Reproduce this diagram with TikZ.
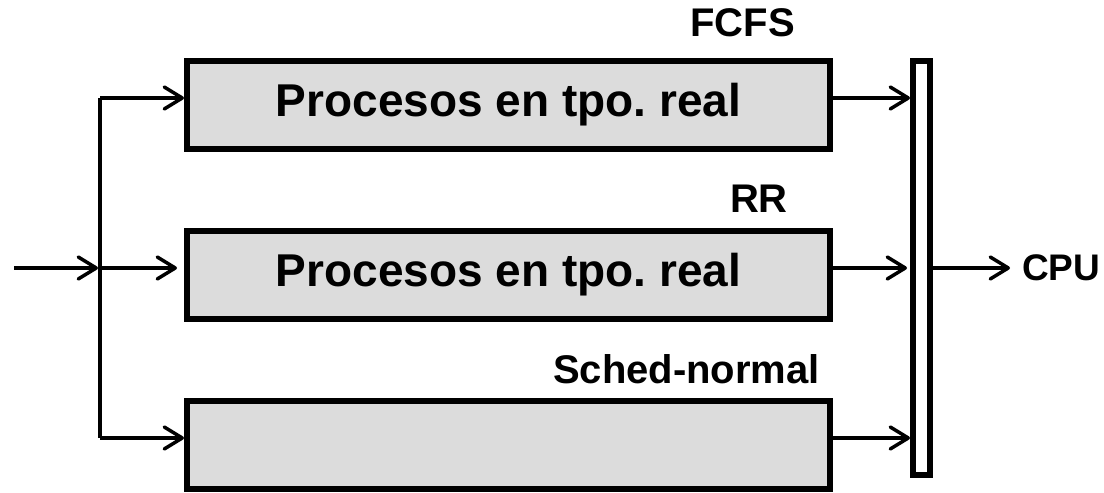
\documentclass[tikz,border=0pt]{standalone}
\usepackage{fontspec}
\setmainfont{Liberation Sans}
\usepackage{xcolor}
\usetikzlibrary{arrows.meta,positioning,calc}
\definecolor{queueGray}{HTML}{DCDCDC}
\definecolor{queueInk}{HTML}{000000}
\frenchspacing

\begin{document}
\begin{tikzpicture}[
  x=1pt, y=1pt,
  queue/.style={draw=queueInk, line width=6pt, fill=queueGray, inner sep=0pt,
    minimum width=643pt, minimum height=88pt,
    font=\fontsize{46}{50}\selectfont\bfseries},
  bus/.style={draw=queueInk, line width=6pt, fill=white, inner sep=0pt,
    minimum width=17pt, minimum height=414pt},
  tag/.style={inner sep=0pt, font=\fontsize{40}{44}\selectfont\bfseries},
  link/.style={line width=3.5pt, draw=queueInk},
  flow/.style={link, -{Straight Barb[length=18pt,width=22pt,round]}}
]
  \useasboundingbox (0,0) rectangle (1104,493);
  \node[queue] (fcfs) at (508.5,388) {Procesos en tpo. real};
  \node[queue,below=76pt of fcfs] (rr) {Procesos en tpo. real};
  \node[queue,below=76pt of rr] (normal) {};
  \node[bus,right=77pt of rr,yshift=7pt] (bus) {};
  \node[tag,anchor=base east] (fcfslbl) at ([xshift=-38pt,yshift=21pt]fcfs.north east) {FCFS};
  \node[tag,anchor=base east] (rrlbl) at ([xshift=-45pt,yshift=15pt]rr.north east) {RR};
  \node[tag,anchor=base east] (normallbl) at ([xshift=-13pt,yshift=14pt]normal.north east) {Sched-normal};
  \node[tag,font=\fontsize{37}{40}\selectfont\bfseries,right=89pt of bus] (cpu) {CPU};
  % entry points
  \coordinate (fcfsin) at ([yshift=7pt]fcfs.west);
  \coordinate (rrin) at ([yshift=7pt]rr.west);
  \coordinate (normalin) at ([yshift=7pt]normal.west);
  \coordinate (split) at ([xshift=-84pt]rrin);
  \coordinate (src) at ([xshift=-86pt]split);
  % exit points
  \coordinate (fcfsout) at ([yshift=7pt]fcfs.east);
  \coordinate (rrout) at ([yshift=7pt]rr.east);
  \coordinate (normalout) at ([yshift=7pt]normal.east);
  \draw[link] (split |- fcfsin) -- (split |- normalin);
  \draw[flow,shorten >=2pt] (src) -- (split);
  \draw[flow] (split |- fcfsin) -- (fcfsin);
  \draw[flow,shorten >=7pt] (split) -- (rrin);
  \draw[flow] (split |- normalin) -- (normalin);
  \draw[flow] (fcfsout) -- (fcfsout -| bus.west);
  \draw[flow,shorten >=3pt] (rrout) -- (rrout -| bus.west);
  \draw[flow] (normalout) -- (normalout -| bus.west);
  \draw[flow,shorten >=12pt] (bus.east) -- (cpu.west);
\end{tikzpicture}
\end{document}
